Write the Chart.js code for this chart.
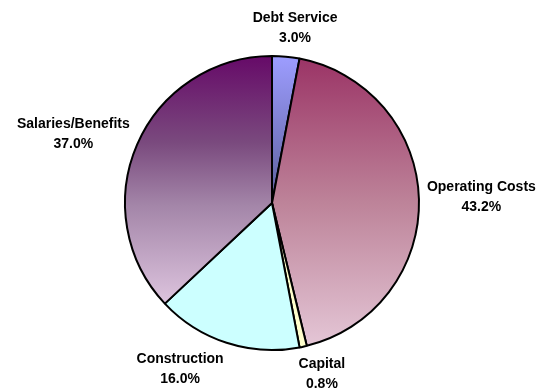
<!DOCTYPE html>
<html>
<head>
<meta charset="utf-8">
<script src="https://cdn.jsdelivr.net/npm/chart.js@4"></script>
<style>
  html, body { margin: 0; padding: 0; background: #ffffff; }
  #wrap { width: 540px; height: 388px; }
</style>
</head>
<body>
<div id="wrap"><canvas id="budgetPie"></canvas></div>
<script>
// budget split, clockwise from 12 o'clock
const categories = ["Debt Service", "Operating Costs", "Capital", "Construction", "Salaries/Benefits"];
const shares = [3.0, 43.2, 0.8, 16.0, 37.0];

// gradient stops (top -> bottom) for each slice
const fillStops = [
  [[0, "#9d9dff"], [1, "#5c5f9c"]],
  [[0, "#9b3466"], [0.5, "#bd8399"], [1, "#e4c6d6"]],
  [[0, "#ffffcc"], [1, "#ffffcc"]],
  [[0, "#ccffff"], [1, "#ccffff"]],
  [[0, "#660a68"], [0.35, "#7a4a7e"], [0.6, "#a385a8"], [1, "#ddc4de"]]
];

// hand-tuned label nudges so the bottom labels don't crowd
const labelNudge = [[4, -1], [-5, -3], [11, -2], [-29, -2], [0, 0]];

const RADIUS = 147;
const LABEL_GAP = 13;

// vertical extent of slice i, so the gradient runs over the slice only
function sliceYRange(i, cy, r) {
  const total = shares.reduce((a, b) => a + b, 0);
  let before = 0;
  for (let k = 0; k < i; k++) before += shares[k];
  const a0 = before / total * Math.PI * 2;
  const a1 = (before + shares[i]) / total * Math.PI * 2;
  const ys = [cy, cy - r * Math.cos(a0), cy - r * Math.cos(a1)];
  if (a0 <= 0) ys.push(cy - r);
  if (a0 <= Math.PI && a1 >= Math.PI) ys.push(cy + r);
  return [Math.min(...ys), Math.max(...ys)];
}

function sliceFill(ctx) {
  const chart = ctx.chart;
  const area = chart.chartArea;
  const i = ctx.dataIndex;
  if (!area) return fillStops[i][0][1];
  const cy = (area.top + area.bottom) / 2;
  const [y0, y1] = sliceYRange(i, cy, RADIUS);
  const g = chart.ctx.createLinearGradient(0, y0, 0, y1);
  fillStops[i].forEach(([t, col]) => g.addColorStop(t, col));
  return g;
}

// category name + percentage outside each slice
const outsideLabels = {
  id: "outsideLabels",
  afterDatasetsDraw(chart) {
    const c = chart.ctx;
    const meta = chart.getDatasetMeta(0);
    const lineH = 20;
    const boxH = 32;
    c.save();
    c.font = "bold 14px 'Liberation Sans', Arial, sans-serif";
    c.fillStyle = "#000000";
    c.textAlign = "center";
    c.textBaseline = "alphabetic";
    meta.data.forEach((arc, i) => {
      const mid = (arc.startAngle + arc.endAngle) / 2;
      const dx = Math.cos(mid), dy = Math.sin(mid);
      const line1 = categories[i];
      const line2 = shares[i].toFixed(1) + "%";
      const w = Math.max(c.measureText(line1).width, c.measureText(line2).width);
      const d = arc.outerRadius + LABEL_GAP;
      const x = arc.x + dx * d + (w / 2) * dx + labelNudge[i][0];
      const y = arc.y + dy * d + (boxH / 2) * dy + labelNudge[i][1];
      // baseline sits ~5px below the cap centre
      c.fillText(line1, x, y - lineH / 2 + 5);
      c.fillText(line2, x, y + lineH / 2 + 5);
    });
    c.restore();
  }
};

new Chart(document.getElementById("budgetPie"), {
  type: "pie",
  data: {
    labels: categories,
    datasets: [{
      data: shares,
      backgroundColor: sliceFill,
      borderColor: "#000000",
      borderWidth: 2
    }]
  },
  options: {
    responsive: true,
    maintainAspectRatio: false,
    animation: false,
    radius: RADIUS,
    layout: { padding: { left: 20, right: 16, top: 28, bottom: 10 } },
    plugins: {
      legend: { display: false },
      tooltip: { enabled: false }
    }
  },
  plugins: [outsideLabels]
});
</script>
</body>
</html>
